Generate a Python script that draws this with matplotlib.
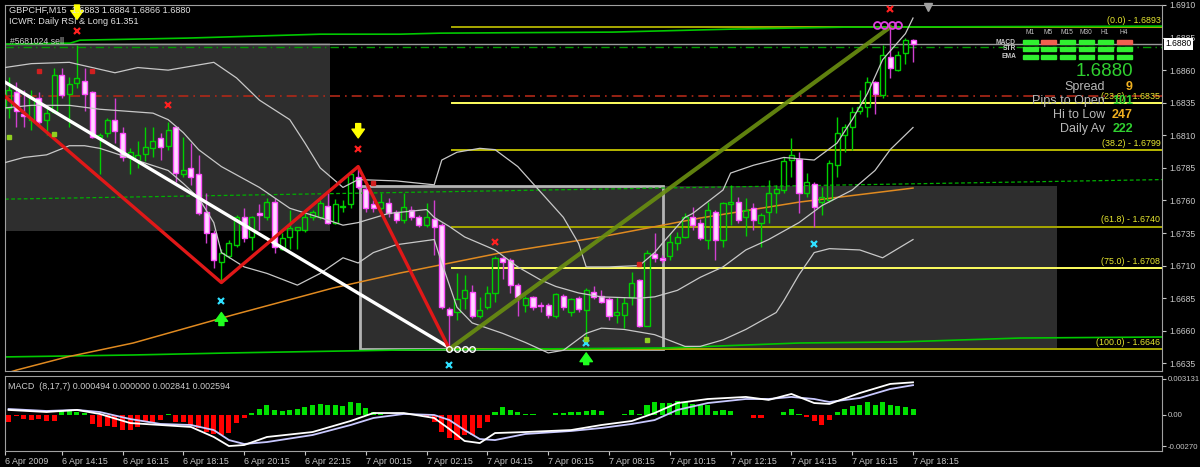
import matplotlib
matplotlib.use('Agg')
import matplotlib.pyplot as plt
from matplotlib.patches import Rectangle

# GBPCHF M15 bars, index 0 = 6 Apr 12:30, last = 7 Apr 18:15
opens = [1.6831, 1.6843, 1.6826, 1.6822, 1.6839, 1.6822, 1.6828, 1.6856, 1.6842, 1.6850,
         1.6852, 1.6843, 1.6809, 1.6812, 1.6822, 1.6812, 1.6793, 1.6791, 1.6796, 1.6800,
         1.6808, 1.6802, 1.6816, 1.6780, 1.6785, 1.6780, 1.6751, 1.6735, 1.6713, 1.6717,
         1.6726, 1.6747, 1.6732, 1.6750, 1.6747, 1.6759, 1.6723, 1.6732, 1.6737, 1.6737,
         1.6747, 1.6747, 1.6756, 1.6743, 1.6755, 1.6757, 1.6778, 1.6769, 1.6757, 1.6754,
         1.6758, 1.6751, 1.6745, 1.6753, 1.6747, 1.6741, 1.6746, 1.6741, 1.6677, 1.6674,
         1.6685, 1.6690, 1.6671, 1.6678, 1.6689, 1.6716, 1.6714, 1.6695, 1.6680, 1.6686,
         1.6680, 1.6680, 1.6671, 1.6687, 1.6674, 1.6685, 1.6676, 1.6690, 1.6687, 1.6684,
         1.6672, 1.6672, 1.6686, 1.6699, 1.6664, 1.6719, 1.6716, 1.6717, 1.6727, 1.6732,
         1.6747, 1.6743, 1.6730, 1.6751, 1.6730, 1.6757, 1.6759, 1.6747, 1.6754, 1.6743,
         1.6751, 1.6766, 1.6768, 1.6791, 1.6792, 1.6766, 1.6773, 1.6759, 1.6760, 1.6787,
         1.6810, 1.6816, 1.6829, 1.6832, 1.6851, 1.6841, 1.6870, 1.6860, 1.6873, 1.6883]
highs = [1.6855, 1.6851, 1.6845, 1.6845, 1.6843, 1.6833, 1.6862, 1.6862, 1.6855, 1.6879,
         1.6862, 1.6844, 1.6812, 1.6823, 1.6839, 1.6816, 1.6800, 1.6806, 1.6816, 1.6816,
         1.6812, 1.6820, 1.6816, 1.6809, 1.6804, 1.6795, 1.6766, 1.6737, 1.6723, 1.6730,
         1.6749, 1.6754, 1.6748, 1.6757, 1.6762, 1.6762, 1.6735, 1.6753, 1.6740, 1.6750,
         1.6753, 1.6760, 1.6766, 1.6761, 1.6760, 1.6781, 1.6786, 1.6770, 1.6760, 1.6766,
         1.6762, 1.6753, 1.6766, 1.6756, 1.6749, 1.6758, 1.6760, 1.6743, 1.6678, 1.6704,
         1.6703, 1.6695, 1.6686, 1.6694, 1.6717, 1.6717, 1.6716, 1.6697, 1.6687, 1.6687,
         1.6682, 1.6681, 1.6689, 1.6688, 1.6685, 1.6687, 1.6693, 1.6694, 1.6691, 1.6686,
         1.6686, 1.6686, 1.6705, 1.6700, 1.6722, 1.6735, 1.6718, 1.6735, 1.6736, 1.6750,
         1.6755, 1.6746, 1.6759, 1.6753, 1.6759, 1.6772, 1.6763, 1.6762, 1.6758, 1.6750,
         1.6776, 1.6772, 1.6793, 1.6808, 1.6797, 1.6781, 1.6774, 1.6770, 1.6791, 1.6824,
         1.6819, 1.6832, 1.6845, 1.6855, 1.6852, 1.6879, 1.6893, 1.6875, 1.6885, 1.6884]
lows = [1.6823, 1.6816, 1.6816, 1.6814, 1.6818, 1.6810, 1.6827, 1.6839, 1.6816, 1.6846,
        1.6829, 1.6808, 1.6780, 1.6809, 1.6804, 1.6790, 1.6780, 1.6785, 1.6790, 1.6793,
        1.6791, 1.6799, 1.6774, 1.6778, 1.6772, 1.6749, 1.6727, 1.6708, 1.6697, 1.6716,
        1.6724, 1.6728, 1.6722, 1.6737, 1.6745, 1.6720, 1.6722, 1.6723, 1.6723, 1.6736,
        1.6745, 1.6746, 1.6742, 1.6742, 1.6751, 1.6754, 1.6769, 1.6751, 1.6751, 1.6753,
        1.6747, 1.6743, 1.6743, 1.6745, 1.6740, 1.6740, 1.6718, 1.6677, 1.6646, 1.6668,
        1.6677, 1.6670, 1.6670, 1.6677, 1.6682, 1.6700, 1.6689, 1.6671, 1.6674, 1.6676,
        1.6674, 1.6670, 1.6670, 1.6676, 1.6671, 1.6674, 1.6651, 1.6684, 1.6681, 1.6668,
        1.6666, 1.6662, 1.6680, 1.6663, 1.6664, 1.6713, 1.6712, 1.6714, 1.6722, 1.6731,
        1.6737, 1.6730, 1.6723, 1.6714, 1.6724, 1.6741, 1.6743, 1.6733, 1.6737, 1.6724,
        1.6743, 1.6750, 1.6766, 1.6778, 1.6750, 1.6763, 1.6740, 1.6749, 1.6759, 1.6778,
        1.6797, 1.6799, 1.6826, 1.6824, 1.6826, 1.6839, 1.6854, 1.6859, 1.6865, 1.6866]
closes = [1.6845, 1.6829, 1.6825, 1.6839, 1.6820, 1.6827, 1.6856, 1.6841, 1.6849, 1.6854,
          1.6842, 1.6809, 1.6810, 1.6822, 1.6813, 1.6793, 1.6797, 1.6795, 1.6801, 1.6806,
          1.6801, 1.6814, 1.6781, 1.6783, 1.6778, 1.6750, 1.6735, 1.6714, 1.6720, 1.6727,
          1.6747, 1.6731, 1.6747, 1.6749, 1.6759, 1.6724, 1.6731, 1.6739, 1.6740, 1.6747,
          1.6751, 1.6758, 1.6743, 1.6757, 1.6756, 1.6780, 1.6770, 1.6754, 1.6754, 1.6759,
          1.6750, 1.6745, 1.6755, 1.6747, 1.6741, 1.6747, 1.6740, 1.6678, 1.6672, 1.6684,
          1.6691, 1.6671, 1.6676, 1.6689, 1.6716, 1.6713, 1.6695, 1.6686, 1.6685, 1.6678,
          1.6679, 1.6672, 1.6688, 1.6678, 1.6684, 1.6677, 1.6691, 1.6686, 1.6682, 1.6671,
          1.6674, 1.6681, 1.6697, 1.6664, 1.6720, 1.6716, 1.6714, 1.6728, 1.6732, 1.6747,
          1.6741, 1.6731, 1.6753, 1.6730, 1.6758, 1.6759, 1.6745, 1.6753, 1.6745, 1.6749,
          1.6766, 1.6769, 1.6790, 1.6795, 1.6766, 1.6774, 1.6755, 1.6763, 1.6789, 1.6812,
          1.6816, 1.6828, 1.6832, 1.6851, 1.6842, 1.6872, 1.6862, 1.6872, 1.6883, 1.6880]

# Bollinger bands (read at selected bars)
bb_up_x = [-0.5, 3, 8, 11, 14, 17, 21, 25, 27, 30, 33, 37, 39, 41, 44, 46, 51, 56, 57, 59, 62, 64,
           67, 69, 71, 73, 75, 76, 79, 83, 85, 86, 89, 90, 94, 95, 98, 102, 106, 109, 111, 113,
           115, 118, 119]
bb_up = [1.6862, 1.6865, 1.6866, 1.6862, 1.6858, 1.6862, 1.6860, 1.6864, 1.6866, 1.6854, 1.6837,
         1.6822, 1.6804, 1.6785, 1.6770, 1.6776, 1.6775, 1.6772, 1.6791, 1.6797, 1.6800, 1.6799,
         1.6786, 1.6773, 1.6760, 1.6747, 1.6727, 1.6709, 1.6709, 1.6710, 1.6720, 1.6727, 1.6747,
         1.6750, 1.6768, 1.6781, 1.6787, 1.6793, 1.6791, 1.6804, 1.6822, 1.6842, 1.6868, 1.6888,
         1.6900]
bb_mid_x = [-0.5, 3, 8, 12, 19, 21, 23, 25, 28, 33, 37, 42, 44, 46, 50, 55, 56, 58, 60, 64, 67,
            70, 72, 75, 78, 83, 85, 88, 91, 94, 97, 100, 104, 107, 111, 114, 116, 119]
bb_mid = [1.6831, 1.6833, 1.6833, 1.6830, 1.6827, 1.6822, 1.6812, 1.6799, 1.6786, 1.6770, 1.6754,
          1.6745, 1.6741, 1.6743, 1.6750, 1.6753, 1.6747, 1.6740, 1.6732, 1.6722, 1.6709, 1.6699,
          1.6694, 1.6689, 1.6686, 1.6685, 1.6686, 1.6691, 1.6701, 1.6709, 1.6722, 1.6730, 1.6743,
          1.6756, 1.6768, 1.6783, 1.6799, 1.6816]
bb_low_x = [-0.5, 2, 5, 8, 10, 12, 21, 23, 25, 27, 28, 31, 34, 38, 41, 44, 46, 48, 51, 56, 57, 59,
            61, 65, 68, 71, 73, 76, 78, 81, 85, 89, 91, 94, 97, 101, 102, 104, 106, 108, 112, 115,
            119]
bb_low = [1.6789, 1.6793, 1.6795, 1.6802, 1.6802, 1.6800, 1.6783, 1.6773, 1.6762, 1.6743, 1.6720,
          1.6709, 1.6704, 1.6695, 1.6704, 1.6716, 1.6712, 1.6720, 1.6726, 1.6730, 1.6712, 1.6678,
          1.6666, 1.6658, 1.6651, 1.6643, 1.6645, 1.6658, 1.6662, 1.6661, 1.6657, 1.6648, 1.6648,
          1.6653, 1.6661, 1.6674, 1.6683, 1.6703, 1.6720, 1.6723, 1.6722, 1.6716, 1.6730]

# other indicator lines
top_ch_x = [-0.5, 8.1, 9.4, 23.5, 41.0, 51.5, 56.8, 79.5, 95.3, 110.0, 151.8]
top_ch = [1.68800, 1.68807, 1.68830, 1.68846, 1.68876, 1.68876, 1.68884, 1.68892, 1.68915,
          1.68930, 1.68938]
bot_ch_x = [-0.5, 16.4, 29.5, 51.5, 86.6, 104.1, 117.3, 133.1, 151.8]
bot_ch = [1.66399, 1.66414, 1.66430, 1.66452, 1.66468, 1.66506, 1.66514, 1.66544, 1.66552]
ma_x = [-0.5, 1.1, 7.7, 16.4, 29.5, 42.7, 51.5, 64.7, 77.8, 91.0, 104.1, 119]
ma_long = [1.6627, 1.66299, 1.66399, 1.66506, 1.66721, 1.66928, 1.67043, 1.67197, 1.67319,
           1.67465, 1.67588, 1.67695]

zigzag_x = [-0.5, 28, 46, 58]
zigzag_y = [1.6840, 1.6697, 1.6786, 1.6646]

fib_levels = [0.0, 23.6, 38.2, 61.8, 75.0, 100.0]
fib_prices = [1.6893, 1.6835, 1.6799, 1.6740, 1.6708, 1.6646]
fib_colors = ['#a8a800', '#ffff60', '#b8b800', '#a8a800', '#ffff60', '#a8a800']

# MACD histogram and lines
macd_hist = [-0.00061, -0.00009, -0.00035, -0.00044, -0.00035, -0.00052, -0.00052,
             0.00035, 0.00035, 0.00026, 0.00017,
             -0.00078, -0.00104, -0.00096, -0.00104, -0.00131, -0.00131, -0.00104, -0.00061,
             -0.00061, -0.00044, 0.00009,
             -0.00061, -0.00061, -0.00087, -0.00113, -0.00148, -0.00165, -0.00174, -0.00157,
             -0.00070, -0.00026,
             0.00017, 0.00052, 0.00087, 0.00044, 0.00035, 0.00044, 0.00052, 0.00070, 0.00087,
             0.00096, 0.00087, 0.00087, 0.00078, 0.00113, 0.00104, 0.00061, 0.00026, 0.00009,
             0.00003, 0.00002, 0.00002, 0.00001, -0.00009, -0.00017,
             -0.00061, -0.00148, -0.00200, -0.00218, -0.00174, -0.00174, -0.00113, -0.00061,
             0.00026, 0.00070, 0.00044, 0.00026, 0.00009, 0.00009, 0.00002, 0.00002, 0.00017,
             0.00017, 0.00026, 0.00026, 0.00035, 0.00044,
             0.00035, 0.00002, 0.00002, 0.00009, 0.00044, 0.00009, 0.00087, 0.00113, 0.00104,
             0.00104, 0.00122, 0.00113, 0.00096, 0.00087, 0.00087, 0.00035, 0.00044, 0.00035,
             0.00002, 0.00002,
             -0.00026, -0.00026, -0.00002, 0.00002, 0.00026, 0.00052, 0.00009, -0.00017,
             -0.00052, -0.00087, -0.00044,
             0.00026, 0.00052, 0.00078, 0.00087, 0.00113, 0.00087, 0.00113, 0.00087, 0.00078,
             0.00070, 0.000494]
macd_x = [0, 5, 9, 12, 16, 20, 24, 27, 29, 31, 34, 40, 45, 48, 52, 56, 58, 60, 62, 64, 68, 74,
          78, 82, 85, 88, 92, 97, 100, 103, 106, 108, 112, 116, 119]
macd_main = [0.00044, 0.00026, 0.00044, 0.00009, -0.00070, -0.00087, -0.00104, -0.00191,
             -0.00270, -0.00261, -0.00191, -0.00148, -0.00052, 0.00017, 0.00017, -0.00026,
             -0.00122, -0.00226, -0.00244, -0.00157, -0.00148, -0.00131, -0.00087, -0.00052,
             0.00017, 0.00104, 0.00139, 0.00157, 0.00131, 0.00183, 0.00104, 0.00096, 0.00191,
             0.00270, 0.002841]
macd_signal = [0.00052, 0.00035, 0.00044, 0.00026, -0.00035, -0.00078, -0.00087, -0.00131,
               -0.00218, -0.00252, -0.00235, -0.00174, -0.00087, -0.00026, 0.00009, 0.0,
               -0.00044, -0.00131, -0.00209, -0.00218, -0.00165, -0.00139, -0.00113, -0.00078,
               -0.00044, 0.00044, 0.00104, 0.00139, 0.00139, 0.00157, 0.00139, 0.00113, 0.00148,
               0.00226, 0.002594]

tick_labels = ['6 Apr 2009', '6 Apr 14:15', '6 Apr 16:15', '6 Apr 18:15', '6 Apr 20:15',
               '6 Apr 22:15', '7 Apr 00:15', '7 Apr 02:15', '7 Apr 04:15', '7 Apr 06:15',
               '7 Apr 08:15', '7 Apr 10:15', '7 Apr 12:15', '7 Apr 14:15', '7 Apr 16:15',
               '7 Apr 18:15']

W, H = 1200, 467
def fx(px):
    return px / W
def fy(py):
    return 1 - py / H

plt.rcParams['font.family'] = ['Liberation Sans', 'DejaVu Sans']
fig = plt.figure(figsize=(12, 4.67), dpi=100, facecolor='black')

XMIN, XMAX = -0.47, 151.76
ax = fig.add_axes([fx(5), fy(371), fx(1162) - fx(5), fy(5) - fy(371)])
ax.set_facecolor('black')
ax.set_xlim(XMIN, XMAX)
ax.set_ylim(1.66291, 1.69099)

# shaded rectangles
ax.add_patch(Rectangle((XMIN, 1.67365), 42.8, 1.68807 - 1.67365, facecolor='#2e2e2e',
                       edgecolor='none', zorder=0))
ax.add_patch(Rectangle((46.2, 1.6646), 137.9 - 46.2, 1.6771 - 1.6646, facecolor='#2e2e2e',
                       edgecolor='none', zorder=0))
ax.add_patch(Rectangle((46.2, 1.6646), 86.1 - 46.2, 1.6771 - 1.6646, facecolor='none',
                       edgecolor='#b4b4b4', lw=2, zorder=1))

# horizontal lines
ax.axhline(1.6880, color='#9a9a9a', lw=1, zorder=1)
ax.axhline(1.6878, color='#009a00', lw=1, ls=(0, (6, 3, 1, 3)), zorder=1)
ax.axhline(1.6840, color='#b02818', lw=1.2, ls=(0, (6, 3, 1, 3)), zorder=1)
ax.plot([XMIN, XMAX], [1.6761, 1.6776], color='#00b000', lw=0.9, ls=(0, (3, 2)), zorder=1)

for lvl, pr, col in zip(fib_levels, fib_prices, fib_colors):
    ax.plot([58.3, XMAX], [pr, pr], color=col, lw=1.4, zorder=2)
    ax.annotate('(%.1f) - %.4f' % (lvl, pr), xy=(XMAX - 0.2, pr), xytext=(0, 1.5),
                textcoords='offset points', ha='right', va='bottom', fontsize=6.4,
                color='#e8e830', zorder=9)

ax.plot(top_ch_x, top_ch, color='#00c800', lw=1.2, zorder=2)
ax.plot(bot_ch_x, bot_ch, color='#00c800', lw=1.2, zorder=2)
ax.plot(ma_x, ma_long, color='#e08a20', lw=1.1, zorder=2)

ax.plot(bb_up_x, bb_up, color='#c8c8c8', lw=0.9, zorder=5)
ax.plot(bb_mid_x, bb_mid, color='#c8c8c8', lw=0.9, zorder=5)
ax.plot(bb_low_x, bb_low, color='#c8c8c8', lw=0.9, zorder=5)

# candles
bw = 0.66
for i, (o, h, l, c) in enumerate(zip(opens, highs, lows, closes)):
    top, bot = max(o, c), min(o, c)
    if c >= o:
        col = '#00d000'
        ax.vlines(i, top, h, color=col, lw=1, zorder=3)
        ax.vlines(i, l, bot, color=col, lw=1, zorder=3)
        ax.add_patch(Rectangle((i - bw / 2, bot), bw, max(top - bot, 0.00002), facecolor='none',
                               edgecolor=col, lw=1, zorder=4))
    else:
        ax.vlines(i, l, h, color='#d040d0', lw=1, zorder=3)
        ax.add_patch(Rectangle((i - bw / 2, bot), bw, max(top - bot, 0.00002),
                               facecolor='#ffd8ff', edgecolor='#ff50ff', lw=1, zorder=4))

# drawn objects
ax.plot([XMIN, 58.3], [1.68508, 1.6646], color='white', lw=2.4, zorder=6)
ax.plot(zigzag_x, zigzag_y, color='#e01818', lw=2.4, zorder=6)
ax.plot([58, 116], [1.6646, 1.6893], color='#6a8f10', lw=3, alpha=0.9, zorder=6)

# signal marks
def arrow(x, y0, y1, col):
    ax.annotate('', xy=(x, y1), xytext=(x, y0), zorder=8, annotation_clip=False,
                arrowprops=dict(arrowstyle='simple,head_width=1.0,head_length=0.7,tail_width=0.4',
                                color=col, mutation_scale=9, shrinkA=0, shrinkB=0))

arrow(9, 1.6910, 1.6899, '#ffff00')
arrow(46, 1.6819, 1.6808, '#ffff00')
arrow(28, 1.6664, 1.6674, '#20ff20')
arrow(76, 1.6634, 1.6643, '#20ff20')

ax.plot([9, 21, 46, 64, 116], [1.68899, 1.68332, 1.67994, 1.67281, 1.69068], 'x',
        color='#ff2020', ms=4.5, mew=1.6, zorder=8)
ax.plot([28, 58, 76, 106], [1.66828, 1.66337, 1.66506, 1.67265], 'x', color='#30e0ff',
        ms=4.5, mew=1.6, zorder=8)
ax.plot([4, 11, 48, 83], [1.68592, 1.68592, 1.67733, 1.67112], 's', color='#d02020',
        ms=2.2, zorder=8)
ax.plot([0, 6, 76, 84], [1.68086, 1.68109, 1.66537, 1.66530], 's', color='#90d020',
        ms=2.2, zorder=8)
ax.plot([114.3, 115.2, 116.2, 117.0], [1.68945] * 4, 'o', mfc='none', mec='#e040e0',
        ms=5, mew=1.3, zorder=8)
ax.plot([58, 59, 60, 61], [1.6646] * 4, 'o', mfc='none', mec='white', ms=4, mew=1, zorder=8)
ax.plot([121], [1.69085], 'v', color='#a0a0a0', ms=6, clip_on=False, zorder=9)

ax.set_xticks([])
ax.yaxis.tick_right()
ax.set_yticks([1.6635 + 0.0025 * k for k in range(12)])
ax.set_yticklabels(['%.4f' % (1.6635 + 0.0025 * k) for k in range(12)])
ax.tick_params(axis='y', colors='#c8c8c8', labelsize=6.2, length=3, pad=2)
for s in ax.spines.values():
    s.set_color('#a0a0a0')

# MACD panel
ax2 = fig.add_axes([fx(5), fy(451), fx(1162) - fx(5), fy(376) - fy(451)])
ax2.set_facecolor('black')
ax2.set_xlim(XMIN, XMAX)
ax2.set_ylim(-0.00313, 0.00339)
hcols = ['#00e000' if v >= 0 else '#ff0000' for v in macd_hist]
hvals = [v if abs(v) > 0.00004 else (0.00004 if v >= 0 else -0.00004) for v in macd_hist]
ax2.bar(range(len(macd_hist)), hvals, width=0.66, color=hcols, zorder=2)
ax2.plot(macd_x, macd_signal, color='#c8c8ff', lw=1.3, zorder=3)
ax2.plot(macd_x, macd_main, color='white', lw=1.3, zorder=3)
ax2.yaxis.tick_right()
ax2.set_yticks([0.003131, 0.0, -0.0027])
ax2.set_yticklabels(['0.003131', '0.00', '-0.00270'])
ax2.tick_params(axis='y', colors='#c8c8c8', labelsize=5.6, length=3, pad=1)
ax2.set_xticks([XMIN] + [7 + 8 * k for k in range(15)])
ax2.set_xticklabels(tick_labels)
ax2.tick_params(axis='x', colors='#c8c8c8', labelsize=6.4, length=3, pad=1.5)
for lbl in ax2.get_xticklabels():
    lbl.set_ha('left')
for s in ax2.spines.values():
    s.set_color('#a0a0a0')
ax2.text(0.003, 0.86, 'MACD  (8,17,7) 0.000494 0.000000 0.002841 0.002594',
         transform=ax2.transAxes, color='#d0d0d0', fontsize=6.4, va='center')

# header texts
fig.text(fx(9), fy(10), 'GBPCHF,M15  1.6883 1.6884 1.6866 1.6880', color='#e0e0e0',
         fontsize=6.6, va='center')
fig.text(fx(9), fy(21), 'ICWR: Daily RSI & Long 61.351', color='#e0e0e0', fontsize=6.6,
         va='center')
fig.text(fx(10), fy(42), '#5681024 sell', color='#d0d0d0', fontsize=6.2, va='center')

# current price box
fig.text(fx(1165), fy(44), '1.6880', color='black', fontsize=6.2, va='center',
         bbox=dict(facecolor='white', edgecolor='none', pad=1.0))

# signal panel, top right
tfs = ['M1', 'M5', 'M15', 'M30', 'H1', 'H4']
cols_x = [1030, 1048, 1067, 1086, 1105, 1124]
rows = ['MACD', 'STR', 'EMA']
row_y = [42, 49, 57]
row_colors = [['#30f030', '#f06050', '#30f030', '#30f030', '#30f030', '#f06050'],
              ['#30f030'] * 6, ['#30f030'] * 6]
for t, cx in zip(tfs, cols_x):
    fig.text(fx(cx), fy(32), t, color='#c0c0c0', fontsize=4.8, ha='center', va='center')
for r, ry, rc in zip(rows, row_y, row_colors):
    fig.text(fx(1016), fy(ry), r, color='#c8c8c8', fontsize=4.8, ha='right', va='center',
             fontweight='bold')
    for cx, c in zip(cols_x, rc):
        fig.patches.append(Rectangle((fx(cx - 7.5), fy(ry + 2)), fx(15), 4 / H, color=c,
                                     transform=fig.transFigure, figure=fig))

fig.text(fx(1133), fy(72), '1.6880', color='#30d030', fontsize=13.5, ha='right', va='center')
info = [('Spread', '9', '#f0b020', 87), ('Pips to Open', '101', '#30d030', 101),
        ('Hi to Low', '247', '#f0b020', 115), ('Daily Av', '222', '#30d030', 129)]
for name, val, vc, yy in info:
    fig.text(fx(1105), fy(yy), name, color='#b8b8b8', fontsize=9, ha='right', va='center')
    fig.text(fx(1133), fy(yy), val, color=vc, fontsize=9, ha='right', va='center',
             fontweight='bold')

fig.savefig('out.png', dpi=100, facecolor='black')
